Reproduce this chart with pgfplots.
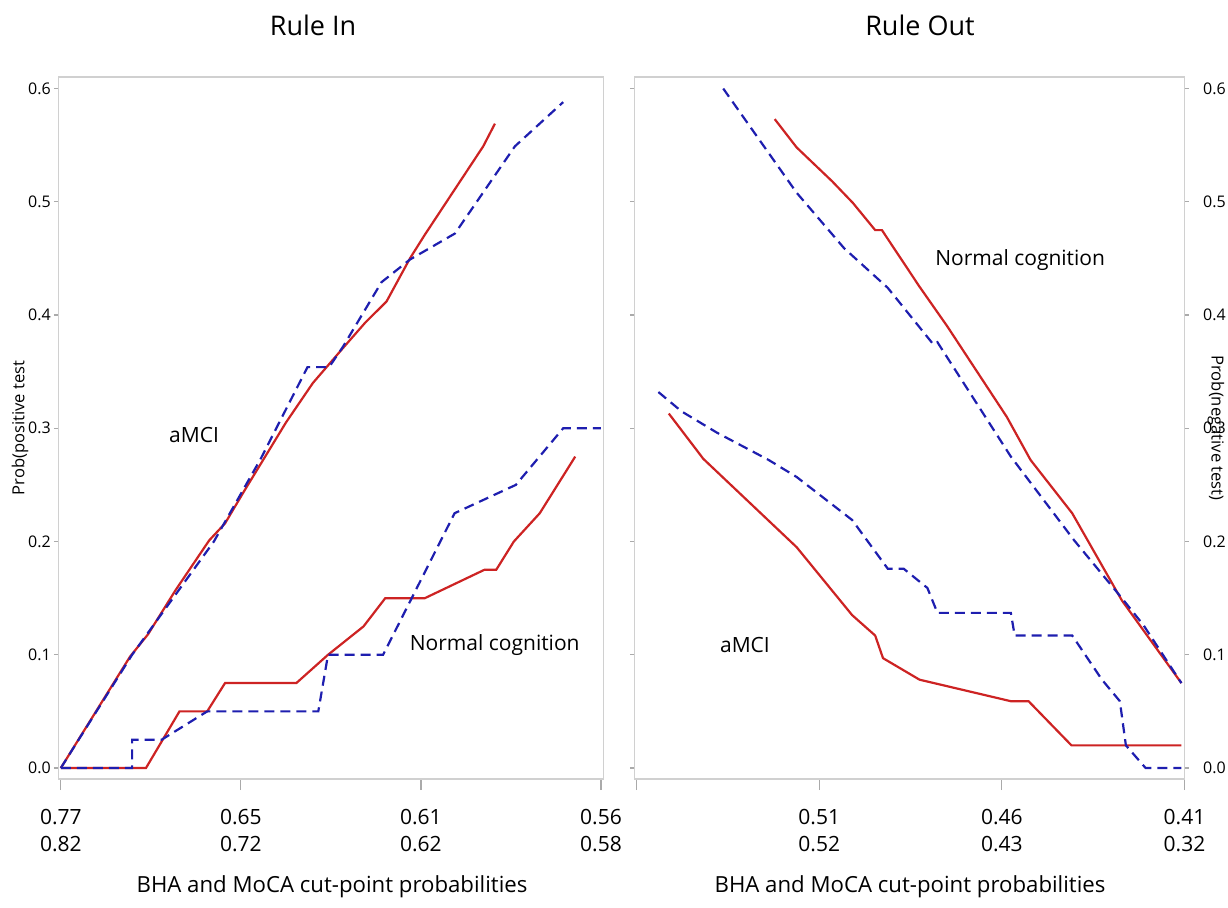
\documentclass[border=0pt]{standalone}
\usepackage{fontspec}
\setmainfont{Open Sans}
\usepackage{pgfplots}
\pgfplotsset{compat=1.18}

\definecolor{ruleRed}{RGB}{205,35,35}
\definecolor{ruleBlue}{RGB}{30,30,175}
\definecolor{frameGray}{RGB}{208,208,208}
\definecolor{tickGray}{RGB}{170,170,170}

\tikzset{
  redline/.style={ruleRed, line width=1.1pt},
  blueline/.style={ruleBlue, line width=1.1pt, dash pattern=on 5pt off 3pt},
  lab/.style={font=\fontsize{10.5}{12}\selectfont},
}
\pgfplotsset{
  panel/.style={
    scale only axis, height=351pt,
    ymin=-0.0097, ymax=0.6102,
    ytick={0,0.1,0.2,0.3,0.4,0.5,0.6},
    yticklabels={0.0,0.1,0.2,0.3,0.4,0.5,0.6},
    xtick={0,1,2,3},
    xtick pos=bottom,
    tick align=outside,
    axis line style={draw=frameGray, line width=0.6pt},
    tick style={draw=tickGray, line width=0.6pt},
    xtick style={/pgfplots/major tick length=5.5pt},
    ytick style={/pgfplots/major tick length=2.2pt},
    xticklabel style={font=\fontsize{10.5}{13.3}\selectfont, align=center, yshift=-7.5pt},
    no markers,
    clip=false,
  },
}

\begin{document}
\begin{tikzpicture}
\useasboundingbox (0,0) rectangle (614pt,453.5pt);

% Rule In
\begin{axis}[panel, at={(29.15pt,64pt)}, anchor=south west, width=272.6pt,
  xmin=-0.014, xmax=3.014, ytick pos=left,
  yticklabel style={font=\fontsize{8}{9.6}\selectfont, xshift=4pt},
  xticklabels={{0.77\\0.82},{0.65\\0.72},{0.61\\0.62},{0.56\\0.58}}]
  % aMCI
  \addplot[redline] coordinates {(0,0) (0.385,0.0985) (0.484,0.118) (0.637,0.157) (0.824,0.201) (0.912,0.216) (1.02,0.245) (1.25,0.305) (1.40,0.34) (1.568,0.371) (1.689,0.393) (1.809,0.412) (1.939,0.450) (2.022,0.471) (2.346,0.549) (2.411,0.569)};
  \addplot[blueline] coordinates {(0,0) (0.396,0.1) (0.85,0.2) (1.11,0.273) (1.37,0.354) (1.49,0.354) (1.567,0.372) (1.781,0.429) (1.939,0.449) (2.189,0.472) (2.522,0.549) (2.79,0.588)};
  % normal cognition
  \addplot[redline] coordinates {(0,0) (0.473,0) (0.659,0.05) (0.813,0.05) (0.912,0.075) (1.308,0.075) (1.484,0.1) (1.681,0.125) (1.802,0.15) (2.022,0.15) (2.352,0.175) (2.418,0.175) (2.516,0.2) (2.66,0.225) (2.857,0.275)};
  \addplot[blueline] coordinates {(0,0) (0.396,0) (0.396,0.025) (0.56,0.025) (0.813,0.05) (1.43,0.05) (1.484,0.1) (1.79,0.1) (2.187,0.225) (2.527,0.25) (2.79,0.3) (3.0,0.3)};
  \node[lab] at (axis cs:0.74,0.294) {aMCI};
  \node[lab] at (axis cs:2.41,0.109) {Normal cognition};
\end{axis}

% Rule Out
\begin{axis}[panel, at={(317.15pt,64pt)}, anchor=south west, width=275.1pt,
  xmin=-0.013, xmax=3.0, ytick pos=both, yticklabel pos=right,
  yticklabel style={font=\fontsize{8}{9.6}\selectfont, xshift=1.5pt},
  xticklabels={{},{0.51\\0.52},{0.46\\0.43},{0.41\\0.32}}]
  % normal cognition
  \addplot[redline] coordinates {(0.756,0.573) (0.876,0.548) (1.071,0.518) (1.184,0.499) (1.306,0.475) (1.343,0.475) (1.549,0.425) (1.701,0.390) (2.027,0.310) (2.157,0.272) (2.385,0.225) (2.657,0.148) (2.983,0.075)};
  \addplot[blueline] coordinates {(0.474,0.6) (0.876,0.508) (1.136,0.459) (1.375,0.424) (1.625,0.374) (1.647,0.376) (2.049,0.275) (2.396,0.201) (2.657,0.150) (2.776,0.126) (2.983,0.075)};
  % aMCI
  \addplot[redline] coordinates {(0.176,0.313) (0.365,0.273) (0.876,0.195) (1.18,0.135) (1.306,0.117) (1.349,0.097) (1.549,0.078) (2.049,0.059) (2.146,0.059) (2.381,0.020) (2.983,0.020)};
  \addplot[blueline] coordinates {(0.119,0.332) (0.245,0.315) (0.441,0.296) (0.723,0.272) (0.876,0.257) (1.18,0.219) (1.375,0.176) (1.462,0.176) (1.592,0.159) (1.647,0.137) (2.049,0.137) (2.07,0.117) (2.385,0.117) (2.548,0.078) (2.646,0.059) (2.679,0.020) (2.787,0) (2.983,0)};
  \node[lab] at (axis cs:2.10,0.449) {Normal cognition};
  \node[lab] at (axis cs:0.593,0.109) {aMCI};
\end{axis}

\node[font=\fontsize{13.5}{16}\selectfont] at (156.5pt,441pt) {Rule In};
\node[font=\fontsize{13.5}{16}\selectfont] at (460pt,441pt) {Rule Out};
\node[font=\fontsize{11.1}{13}\selectfont] at (166pt,10pt) {BHA and MoCA cut-point probabilities};
\node[font=\fontsize{11.1}{13}\selectfont] at (455pt,10pt) {BHA and MoCA cut-point probabilities};
\node[font=\fontsize{8.3}{10}\selectfont, rotate=90] at (10pt,239.5pt) {Prob(positive test};
\node[font=\fontsize{8.3}{10}\selectfont, rotate=-90] at (608pt,239.5pt) {Prob(negative test)};
\end{tikzpicture}
\end{document}
